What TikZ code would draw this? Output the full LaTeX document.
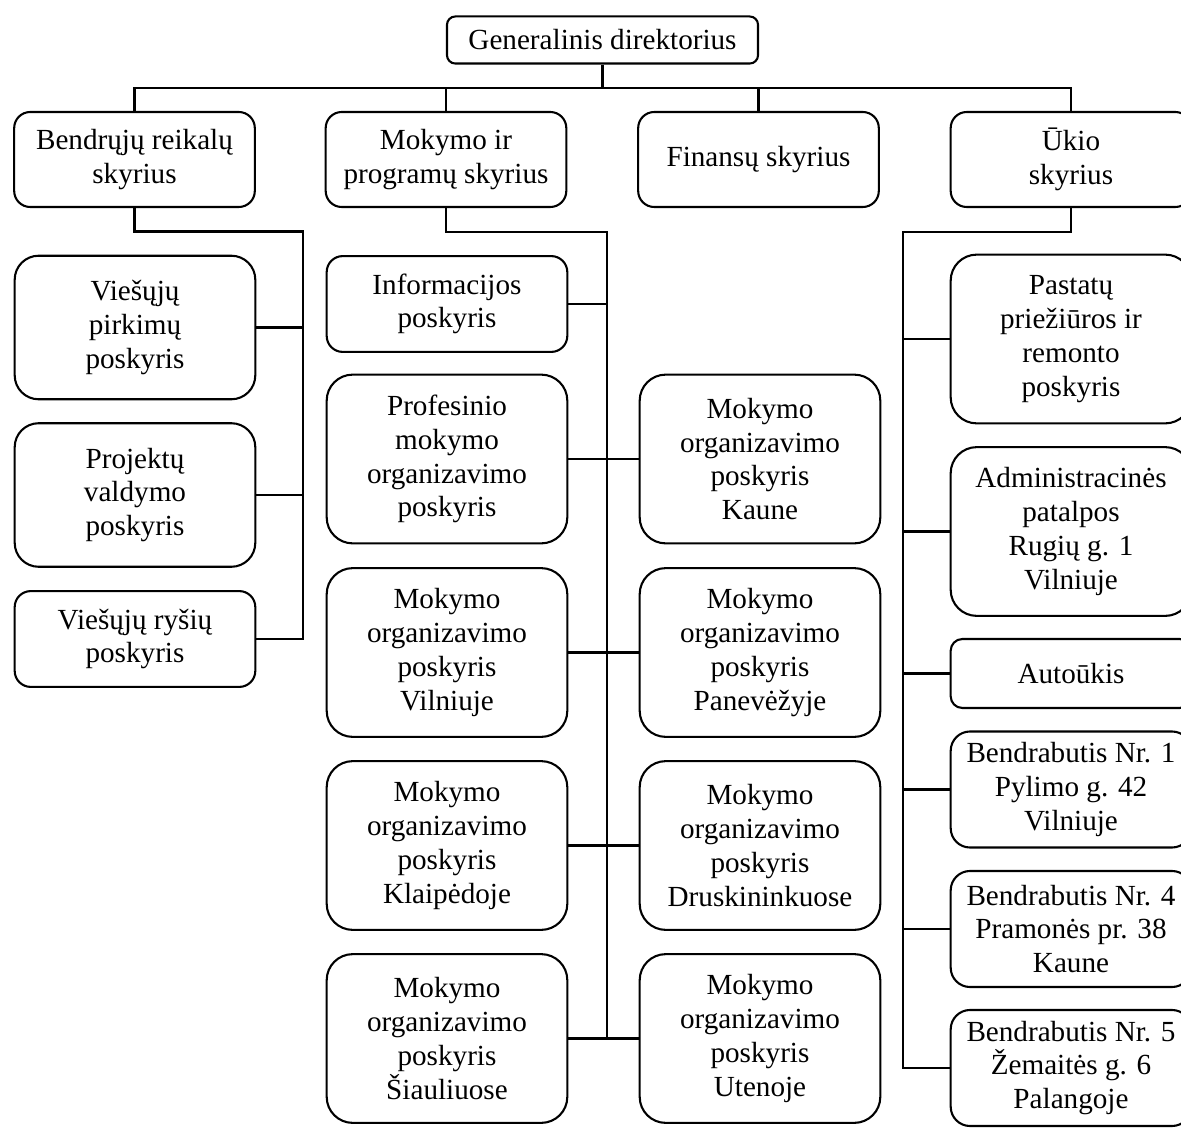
\documentclass[tikz,border=0pt]{standalone}
\usepackage{fontspec}
\setmainfont{Liberation Serif}

\begin{document}
\begin{tikzpicture}[x=0.48pt, y=-0.48pt,
  every node/.style={font=\fontsize{14}{16.2}\selectfont},
  orgbox/.style={draw, line width=1pt, align=center, inner sep=1pt, minimum width=115.5pt},
  headbox/.style={orgbox, minimum width=149.3pt, minimum height=22.6pt, rounded corners=4pt},
  deptbox/.style={orgbox, minimum height=45.6pt, rounded corners=7.7pt},
  lowbox/.style={orgbox, minimum height=46pt, rounded corners=7.7pt},
  tallbox/.style={orgbox, minimum height=68.9pt, rounded corners=11.5pt},
  bigbox/.style={orgbox, minimum height=81pt, rounded corners=12.5pt},
  autobox/.style={orgbox, minimum height=33.1pt, rounded corners=5.6pt},
  dormbox/.style={orgbox, minimum height=55.7pt, rounded corners=9.3pt},
  link/.style={line width=1pt}]
  \useasboundingbox (0,0) rectangle (1181,1140);

  % Director and departments
  \node[headbox] (gd) at (602.5,40) {Generalinis direktorius};
  \node[deptbox] (bendr) at (134.5,159.5) {Bendrųjų reikalų\\skyrius};
  \node[deptbox] (mokprog) at (446,159.5) {Mokymo ir\\programų skyrius};
  \node[deptbox] (fin) at (758.5,159.5) {Finansų skyrius};
  \node[deptbox] (ukis) at (1071,159.5) {Ūkio\\skyrius};

  % Bendrųjų reikalų poskyriai
  \node[tallbox] (pirkimai) at (135,327.5) {Viešųjų\\pirkimų\\poskyris};
  \node[tallbox] (projektai) at (135,495) {Projektų\\valdymo\\poskyris};
  \node[lowbox] (rysiai) at (135,639) {Viešųjų ryšių\\poskyris};

  % Mokymo ir programų poskyriai
  \node[lowbox] (info) at (447,304) {Informacijos\\poskyris};
  \node[bigbox] (profmok) at (447,459) {Profesinio\\mokymo\\organizavimo\\poskyris};
  \node[bigbox] (vilnius) at (447,652.5) {Mokymo\\organizavimo\\poskyris\\Vilniuje};
  \node[bigbox] (klaipeda) at (447,845.5) {Mokymo\\organizavimo\\poskyris\\Klaipėdoje};
  \node[bigbox] (siauliai) at (447,1038.5) {Mokymo\\organizavimo\\poskyris\\Šiauliuose};
  \node[bigbox] (kaunas) at (760,459) {Mokymo\\organizavimo\\poskyris\\Kaune};
  \node[bigbox] (panevezys) at (760,652.5) {Mokymo\\organizavimo\\poskyris\\Panevėžyje};
  \node[bigbox] (druskininkai) at (760,845.5) {Mokymo\\organizavimo\\poskyris\\Druskininkuose};
  \node[bigbox] (utena) at (760,1038.5) {Mokymo\\organizavimo\\poskyris\\Utenoje};

  % Ūkio poskyriai
  \node[bigbox] (pastatai) at (1071,339) {Pastatų\\priežiūros ir\\remonto\\poskyris};
  \node[bigbox] (admin) at (1071,531.5) {Administracinės\\patalpos\\Rugių g. 1\\Vilniuje};
  \node[autobox] (auto) at (1071,673.5) {Autoūkis};
  \node[dormbox] (bendrab1) at (1071,789.5) {Bendrabutis Nr. 1\\Pylimo g. 42\\Vilniuje};
  \node[dormbox] (bendrab4) at (1071,929) {Bendrabutis Nr. 4\\Pramonės pr. 38\\Kaune};
  \node[dormbox] (bendrab5) at (1071,1068) {Bendrabutis Nr. 5\\Žemaitės g. 6\\Palangoje};

  % Bus lines
  \coordinate (top bus) at (602.5,88);
  \coordinate (left bus) at (303,231.5);
  \coordinate (mid bus) at (607,232);
  \coordinate (right bus) at (903,232);

  \draw[link] (gd.south) -- (top bus);
  \draw[link] (bendr.north) |- (ukis.north |- top bus) -- (ukis.north);
  \draw[link] (mokprog.north) -- (mokprog.north |- top bus)
    (fin.north) -- (fin.north |- top bus);

  \draw[link] (bendr.south) |- (left bus) |- (rysiai.east);
  \draw[link] (pirkimai.east) -- (pirkimai.east -| left bus)
    (projektai.east) -- (projektai.east -| left bus);

  \draw[link] (mokprog.south) |- (mid bus) |- (siauliai.east);
  \draw[link] (info.east) -- (info.east -| mid bus)
    (profmok.east) -- (kaunas.west)
    (vilnius.east) -- (panevezys.west)
    (klaipeda.east) -- (druskininkai.west)
    (siauliai.east) -- (utena.west);

  \draw[link] (ukis.south) |- (right bus) |- (bendrab5.west);
  \draw[link] (pastatai.west) -- (pastatai.west -| right bus)
    (admin.west) -- (admin.west -| right bus)
    (auto.west) -- (auto.west -| right bus)
    (bendrab1.west) -- (bendrab1.west -| right bus)
    (bendrab4.west) -- (bendrab4.west -| right bus);
\end{tikzpicture}
\end{document}
